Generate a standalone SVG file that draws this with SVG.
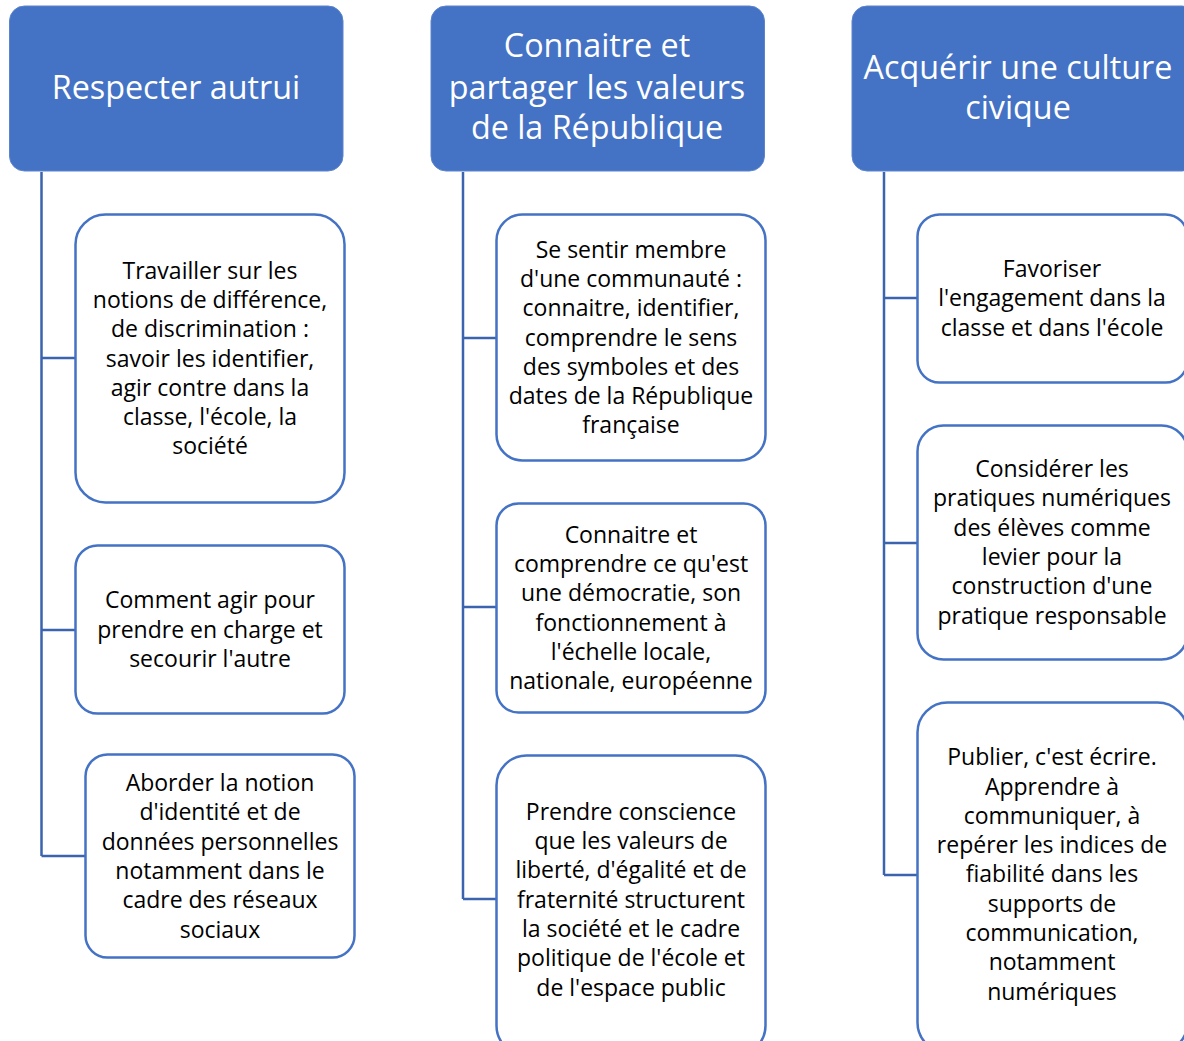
<svg xmlns="http://www.w3.org/2000/svg" width="1184" height="1041" viewBox="0 0 1184 1041">
<style>
.hdr{fill:#4472C4;stroke:#5B84CC;stroke-width:1}
.box{fill:#FFFFFF;stroke:#4472C4;stroke-width:2.5}
.ht{font-family:"Open Sans","Noto Sans",sans-serif;font-size:32.3px;fill:#FFFFFF;text-anchor:middle}
.bt{font-family:"Open Sans","Noto Sans",sans-serif;font-size:23px;fill:#000000;text-anchor:middle}
.con{fill:none;stroke:#3C64AE;stroke-width:2.5}
</style>
<rect width="1184" height="1041" fill="#FFFFFF"/>
<g id="connectors">
<path class="con" d="M41.5 172 V856 M41.5 358 H75 M41.5 630 H75 M41.5 856 H85"/>
<path class="con" d="M463 172 V899 M463 338 H496 M463 607 H496 M463 899 H496"/>
<path class="con" d="M884 172 V875 M884 298 H917 M884 543 H917 M884 875 H917"/>
</g>
<g id="h1"><rect class="hdr" x="9.5" y="6" width="333.5" height="165" rx="15"/>
<text class="ht" x="176" y="99">Respecter autrui</text></g>
<g id="h2"><rect class="hdr" x="431" y="6" width="333.5" height="165" rx="15"/>
<text class="ht" x="597" y="57">Connaitre et</text><text class="ht" x="597" y="99">partager les valeurs</text><text class="ht" x="597" y="139">de la République</text></g>
<g id="h3"><rect class="hdr" x="852" y="6" width="345" height="165" rx="15"/>
<text class="ht" x="1018" y="79">Acquérir une culture</text><text class="ht" x="1018" y="119">civique</text></g>

<g id="c1b1"><rect class="box" x="75.5" y="214.5" width="269" height="288" rx="30"/>
<text class="bt"><tspan x="210" y="279">Travailler sur les</tspan><tspan x="210" y="308">notions de différence,</tspan><tspan x="210" y="337">de discrimination :</tspan><tspan x="210" y="367">savoir les identifier,</tspan><tspan x="210" y="396">agir contre dans la</tspan><tspan x="210" y="425">classe, l'école, la</tspan><tspan x="210" y="454">société</tspan></text></g>
<g id="c1b2"><rect class="box" x="75.5" y="545.5" width="269" height="168" rx="22"/>
<text class="bt"><tspan x="210" y="608">Comment agir pour</tspan><tspan x="210" y="638">prendre en charge et</tspan><tspan x="210" y="667">secourir l'autre</tspan></text></g>
<g id="c1b3"><rect class="box" x="85.5" y="754.5" width="269" height="203" rx="22"/>
<text class="bt"><tspan x="220" y="791">Aborder la notion</tspan><tspan x="220" y="820">d'identité et de</tspan><tspan x="220" y="850">données personnelles</tspan><tspan x="220" y="879">notamment dans le</tspan><tspan x="220" y="908">cadre des réseaux</tspan><tspan x="220" y="938">sociaux</tspan></text></g>

<g id="c2b1"><rect class="box" x="496.5" y="214.5" width="269" height="246" rx="26"/>
<text class="bt"><tspan x="631" y="258">Se sentir membre</tspan><tspan x="631" y="287">d'une communauté :</tspan><tspan x="631" y="316">connaitre, identifier,</tspan><tspan x="631" y="346">comprendre le sens</tspan><tspan x="631" y="375">des symboles et des</tspan><tspan x="631" y="404">dates de la République</tspan><tspan x="631" y="433">française</tspan></text></g>
<g id="c2b2"><rect class="box" x="496.5" y="503.5" width="269" height="209" rx="22"/>
<text class="bt"><tspan x="631" y="543">Connaitre et</tspan><tspan x="631" y="572">comprendre ce qu'est</tspan><tspan x="631" y="601">une démocratie, son</tspan><tspan x="631" y="631">fonctionnement à</tspan><tspan x="631" y="660">l'échelle locale,</tspan><tspan x="631" y="689">nationale, européenne</tspan></text></g>
<g id="c2b3"><rect class="box" x="496.5" y="755.5" width="269" height="300" rx="30"/>
<text class="bt"><tspan x="631" y="820">Prendre conscience</tspan><tspan x="631" y="849">que les valeurs de</tspan><tspan x="631" y="878">liberté, d'égalité et de</tspan><tspan x="631" y="908">fraternité structurent</tspan><tspan x="631" y="937">la société et le cadre</tspan><tspan x="631" y="966">politique de l'école et</tspan><tspan x="631" y="996">de l'espace public</tspan></text></g>

<g id="c3b1"><rect class="box" x="917.5" y="214.5" width="270" height="168" rx="22"/>
<text class="bt"><tspan x="1052" y="277">Favoriser</tspan><tspan x="1052" y="306">l'engagement dans la</tspan><tspan x="1052" y="336">classe et dans l'école</tspan></text></g>
<g id="c3b2"><rect class="box" x="917.5" y="425.5" width="270" height="234" rx="26"/>
<text class="bt"><tspan x="1052" y="477">Considérer les</tspan><tspan x="1052" y="506">pratiques numériques</tspan><tspan x="1052" y="536">des élèves comme</tspan><tspan x="1052" y="565">levier pour la</tspan><tspan x="1052" y="594">construction d'une</tspan><tspan x="1052" y="624">pratique responsable</tspan></text></g>
<g id="c3b3"><rect class="box" x="917.5" y="702.5" width="270" height="350" rx="30"/>
<text class="bt"><tspan x="1052" y="765">Publier, c'est écrire.</tspan><tspan x="1052" y="795">Apprendre à</tspan><tspan x="1052" y="824">communiquer, à</tspan><tspan x="1052" y="853">repérer les indices de</tspan><tspan x="1052" y="882">fiabilité dans les</tspan><tspan x="1052" y="912">supports de</tspan><tspan x="1052" y="941">communication,</tspan><tspan x="1052" y="970">notamment</tspan><tspan x="1052" y="1000">numériques</tspan></text></g>
</svg>
